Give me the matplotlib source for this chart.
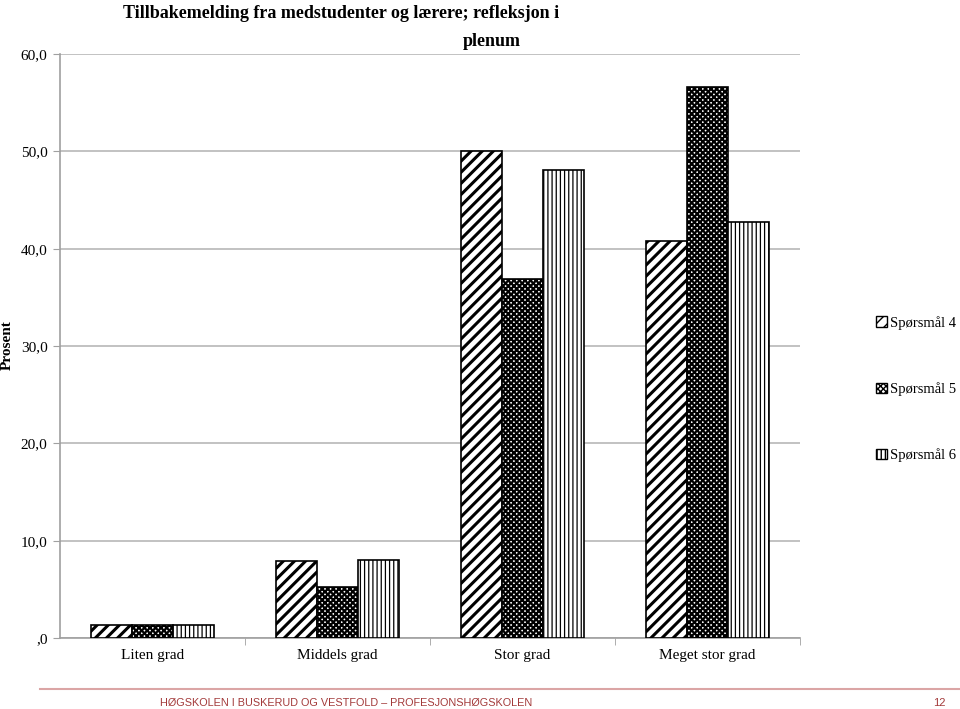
import matplotlib
matplotlib.use("Agg")
import matplotlib.pyplot as plt
import numpy as np
from matplotlib.patches import Patch

categories = ["Liten grad", "Middels grad", "Stor grad", "Meget stor grad"]
series_names = ["Spørsmål 4", "Spørsmål 5", "Spørsmål 6"]
sp4 = [1.3, 7.9, 50.0, 40.8]
sp5 = [1.3, 5.2, 36.9, 56.6]
sp6 = [1.3, 8.0, 48.1, 42.7]
yticks = [0, 10, 20, 30, 40, 50, 60]
ytick_labels = [",0", "10,0", "20,0", "30,0", "40,0", "50,0", "60,0"]

serif = ["Liberation Serif", "DejaVu Serif"]
plt.rcParams['font.family'] = serif

fig = plt.figure(figsize=(9.6, 7.09), dpi=100)
ax = fig.add_axes([0.0625, 0.1001, 0.7708, 0.8237])

x = np.arange(len(categories))
w = 0.222
hatches = ["///", "xxxxxx", "||||"]
hlw = [2.2, 1.6, 0.9]
data = [sp4, sp5, sp6]
offs = [-w, 0, w]
for vals, h, lw, off in zip(data, hatches, hlw, offs):
    bars = ax.bar(x + off, vals, width=w, facecolor="white", edgecolor="black",
                  hatch=h, linewidth=1.2, zorder=3)
    for b in bars:
        try:
            b.set_hatch_linewidth(lw)
        except Exception:
            pass

ax.set_xlim(-0.5, 3.5)
ax.set_ylim(0, 60)
ax.set_yticks(yticks)
ax.set_yticklabels(ytick_labels, fontsize=11)
ax.yaxis.grid(True, color="#b8b8b8", linewidth=1.2, zorder=0)
ax.set_axisbelow(True)
ax.set_xticks(x)
ax.set_xticklabels(categories, fontsize=11)
ax.tick_params(axis='x', length=0, pad=8)
ax.tick_params(axis='y', length=5, color="#a0a0a0", pad=4)
ax.set_xticks(np.arange(0.5, 3.6, 1.0), minor=True)
ax.tick_params(axis='x', which='minor', length=5, color="#a0a0a0")
for s in ["top", "right"]:
    ax.spines[s].set_visible(False)
for s in ["left", "bottom"]:
    ax.spines[s].set_color("#a0a0a0")
    ax.spines[s].set_linewidth(1.2)

ax.set_ylabel("Prosent", fontsize=11, fontweight="bold")
ax.yaxis.set_label_coords(-0.062, 0.502)

fig.text(0.355, 1 - 13/709, "Tillbakemelding fra medstudenter og lærere; refleksjon i",
         ha="center", va="center", fontsize=13, fontweight="bold")
fig.text(0.512, 1 - 41/709, "plenum", ha="center", va="center", fontsize=13, fontweight="bold")

handles = [Patch(facecolor="white", edgecolor="black", hatch=h, linewidth=1) for h in hatches]
leg = fig.legend(handles, series_names, loc="center left", bbox_to_anchor=(0.913, 1 - 389/709),
                 frameon=False, fontsize=10.5, handlelength=0.7, handleheight=0.7,
                 handletextpad=0.2, labelspacing=3.6, borderaxespad=0, borderpad=0)

# footer
fig.add_artist(plt.Line2D([0.042, 1.0], [1 - 689/709, 1 - 689/709], color="#dba5a5",
                          linewidth=1.5, transform=fig.transFigure))
fig.text(0.167, 1 - 703/709, "HØGSKOLEN I BUSKERUD OG VESTFOLD – PROFESJONSHØGSKOLEN",
         family=["Liberation Sans", "DejaVu Sans"], fontsize=7.8, color="#a33a3a",
         ha="left", va="center")
fig.text(0.985, 1 - 703/709, "12", family=["Liberation Sans", "DejaVu Sans"], fontsize=8,
         color="#a33a3a", ha="right", va="center")

fig.savefig("out.png", dpi=100)
